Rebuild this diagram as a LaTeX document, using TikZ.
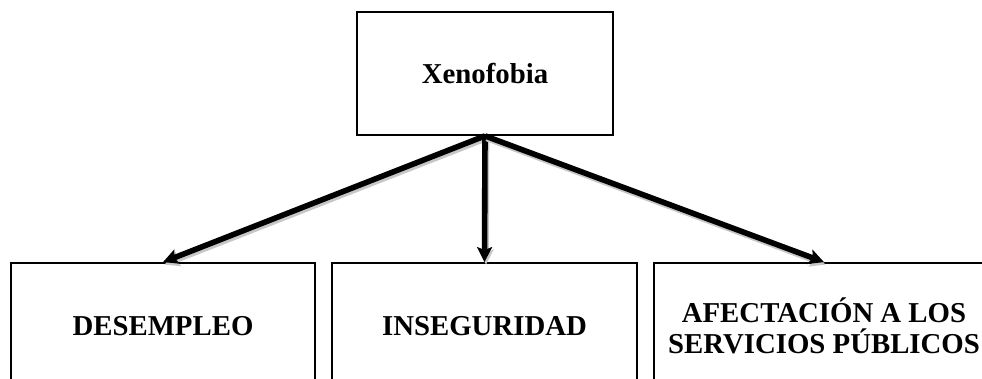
\documentclass[tikz,border=0pt]{standalone}
\usepackage{fontspec}
\setmainfont{Liberation Serif}
\usetikzlibrary{arrows.meta}
\tikzset{
  box/.style={draw=black, line width=1.8pt, fill=white, inner sep=0pt,
    font=\fontsize{28.8}{31}\selectfont\bfseries, align=center},
  tip/.style={-{Stealth[length=15pt,width=15pt,inset=3pt]}},
  link/.style={line width=5.6pt, tip,
    preaction={draw=black!22, line width=5.6pt, tip, transform canvas={shift={(1.5pt,-2.5pt)}}}}
}
\begin{document}
\begin{tikzpicture}[x=1pt,y=-1pt]
\useasboundingbox (0,0) rectangle (982,379);
\clip (0,0) rectangle (982,379);
\node[box, minimum width=256pt, minimum height=123pt] (top) at (485,73.5) {Xenofobia};
\node[box, minimum width=304pt, minimum height=126pt] (a) at (163,326) {DESEMPLEO};
\node[box, minimum width=305pt, minimum height=126pt] (b) at (484.5,326) {INSEGURIDAD};
\node[box, minimum width=340pt, minimum height=126pt] (c) at (824,326) {AFECTACIÓN A LOS\\SERVICIOS PÚBLICOS};
\draw[link] (top.south) -- (a.north);
\draw[link] (top.south) -- (b.north);
\draw[link] (top.south) -- (c.north);
\end{tikzpicture}
\end{document}
